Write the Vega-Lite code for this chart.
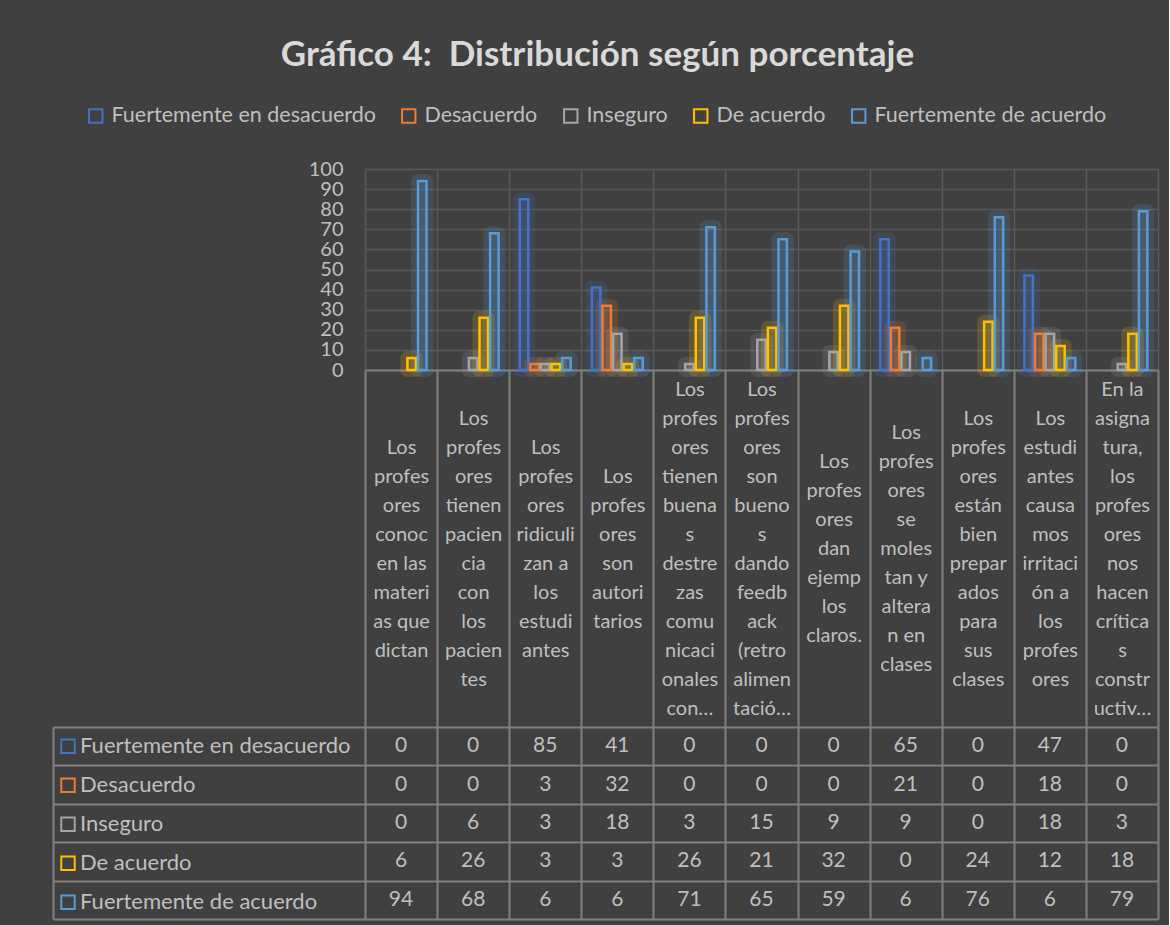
{
  "$schema": "https://vega.github.io/schema/vega-lite/v6.json",
  "background": "#404040",
  "padding": {"left": 52, "top": 38, "right": 10, "bottom": 5},
  "title": {
    "text": "Gráfico 4: \u00a0Distribución según porcentaje",
    "anchor": "middle",
    "font": "Lato",
    "fontSize": 35,
    "fontWeight": "bold",
    "color": "#d9d9d9",
    "offset": 32,
    "dx": -8
  },
  "datasets": {
    "labels": [
      {"q": 1, "label": "Los|profes|ores|conoc|en las|materi|as que|dictan"},
      {"q": 2, "label": "Los|profes|ores|tienen|pacien|cia|con|los|pacien|tes"},
      {"q": 3, "label": "Los|profes|ores|ridiculi|zan a|los|estudi|antes"},
      {"q": 4, "label": "Los|profes|ores|son|autori|tarios"},
      {"q": 5, "label": "Los|profes|ores|tienen|buena|s|destre|zas|comu|nicaci|onales|con…"},
      {"q": 6, "label": "Los|profes|ores|son|bueno|s|dando|feedb|ack|(retro|alimen|tació…"},
      {"q": 7, "label": "Los|profes|ores|dan|ejemp|los|claros."},
      {"q": 8, "label": "Los|profes|ores|se|moles|tan y|altera|n en|clases"},
      {"q": 9, "label": "Los|profes|ores|están|bien|prepar|ados|para|sus|clases"},
      {"q": 10, "label": "Los|estudi|antes|causa|mos|irritaci|ón a|los|profes|ores"},
      {"q": 11, "label": "En la|asigna|tura,|los|profes|ores|nos|hacen|crítica|s|constr|uctiv…"}
    ],
    "d": [
      {"q": 1, "series": "Fuertemente en desacuerdo", "value": 0},
      {"q": 1, "series": "Desacuerdo", "value": 0},
      {"q": 1, "series": "\u00a0Inseguro", "value": 0},
      {"q": 1, "series": "De acuerdo", "value": 6},
      {"q": 1, "series": "Fuertemente de acuerdo", "value": 94},
      {"q": 2, "series": "Fuertemente en desacuerdo", "value": 0},
      {"q": 2, "series": "Desacuerdo", "value": 0},
      {"q": 2, "series": "\u00a0Inseguro", "value": 6},
      {"q": 2, "series": "De acuerdo", "value": 26},
      {"q": 2, "series": "Fuertemente de acuerdo", "value": 68},
      {"q": 3, "series": "Fuertemente en desacuerdo", "value": 85},
      {"q": 3, "series": "Desacuerdo", "value": 3},
      {"q": 3, "series": "\u00a0Inseguro", "value": 3},
      {"q": 3, "series": "De acuerdo", "value": 3},
      {"q": 3, "series": "Fuertemente de acuerdo", "value": 6},
      {"q": 4, "series": "Fuertemente en desacuerdo", "value": 41},
      {"q": 4, "series": "Desacuerdo", "value": 32},
      {"q": 4, "series": "\u00a0Inseguro", "value": 18},
      {"q": 4, "series": "De acuerdo", "value": 3},
      {"q": 4, "series": "Fuertemente de acuerdo", "value": 6},
      {"q": 5, "series": "Fuertemente en desacuerdo", "value": 0},
      {"q": 5, "series": "Desacuerdo", "value": 0},
      {"q": 5, "series": "\u00a0Inseguro", "value": 3},
      {"q": 5, "series": "De acuerdo", "value": 26},
      {"q": 5, "series": "Fuertemente de acuerdo", "value": 71},
      {"q": 6, "series": "Fuertemente en desacuerdo", "value": 0},
      {"q": 6, "series": "Desacuerdo", "value": 0},
      {"q": 6, "series": "\u00a0Inseguro", "value": 15},
      {"q": 6, "series": "De acuerdo", "value": 21},
      {"q": 6, "series": "Fuertemente de acuerdo", "value": 65},
      {"q": 7, "series": "Fuertemente en desacuerdo", "value": 0},
      {"q": 7, "series": "Desacuerdo", "value": 0},
      {"q": 7, "series": "\u00a0Inseguro", "value": 9},
      {"q": 7, "series": "De acuerdo", "value": 32},
      {"q": 7, "series": "Fuertemente de acuerdo", "value": 59},
      {"q": 8, "series": "Fuertemente en desacuerdo", "value": 65},
      {"q": 8, "series": "Desacuerdo", "value": 21},
      {"q": 8, "series": "\u00a0Inseguro", "value": 9},
      {"q": 8, "series": "De acuerdo", "value": 0},
      {"q": 8, "series": "Fuertemente de acuerdo", "value": 6},
      {"q": 9, "series": "Fuertemente en desacuerdo", "value": 0},
      {"q": 9, "series": "Desacuerdo", "value": 0},
      {"q": 9, "series": "\u00a0Inseguro", "value": 0},
      {"q": 9, "series": "De acuerdo", "value": 24},
      {"q": 9, "series": "Fuertemente de acuerdo", "value": 76},
      {"q": 10, "series": "Fuertemente en desacuerdo", "value": 47},
      {"q": 10, "series": "Desacuerdo", "value": 18},
      {"q": 10, "series": "\u00a0Inseguro", "value": 18},
      {"q": 10, "series": "De acuerdo", "value": 12},
      {"q": 10, "series": "Fuertemente de acuerdo", "value": 6},
      {"q": 11, "series": "Fuertemente en desacuerdo", "value": 0},
      {"q": 11, "series": "Desacuerdo", "value": 0},
      {"q": 11, "series": "\u00a0Inseguro", "value": 3},
      {"q": 11, "series": "De acuerdo", "value": 18},
      {"q": 11, "series": "Fuertemente de acuerdo", "value": 79}
    ]
  },
  "spacing": 357,
  "bounds": "flush",
  "resolve": {"scale": {"stroke": "independent"}, "legend": {"stroke": "independent"}},
  "vconcat": [
    {
      "width": 793,
      "height": 201,
      "data": {"name": "d"},
      "transform": [
        {"lookup": "q", "from": {"data": {"name": "labels"}, "key": "q", "fields": ["label"]}},
        {"filter": "datum.value > 0"}
      ],
      "encoding": {
        "x": {
          "field": "label", "type": "nominal",
          "sort": {"field": "q", "op": "min"},
          "scale": {"paddingInner": 0, "paddingOuter": 0},
          "axis": {"labels": false, "ticks": false, "title": null, "domain": true, "domainColor": "#808080", "domainWidth": 2, "grid": true, "gridColor": "#595959", "gridWidth": 1.5, "tickBand": "extent"}
        },
        "xOffset": {
          "field": "series", "type": "nominal",
          "sort": ["Fuertemente en desacuerdo", "Desacuerdo", "\u00a0Inseguro", "De acuerdo", "Fuertemente de acuerdo"],
          "scale": {"paddingInner": 0.2, "paddingOuter": 1.2}
        },
        "y": {
          "field": "value", "type": "quantitative",
          "scale": {"domain": [0, 100], "nice": false},
          "axis": {"values": [0, 10, 20, 30, 40, 50, 60, 70, 80, 90, 100], "title": null, "domain": false, "ticks": false, "labelPadding": 22, "labelFontSize": 20, "labelFont": "Lato", "labelColor": "#bfbfbf", "labelOverlap": false, "grid": true, "gridColor": "#595959", "gridWidth": 1.5}
        }
      },
      "layer": [
        {
          "mark": {"type": "point", "filled": false, "shape": "square", "size": 0, "opacity": 0, "strokeWidth": 2},
          "encoding": {
            "stroke": {"field": "series", "type": "nominal",
              "sort": ["Fuertemente en desacuerdo", "Desacuerdo", "\u00a0Inseguro", "De acuerdo", "Fuertemente de acuerdo"],
              "scale": {"range": ["#4472C4", "#ED7D31", "#A5A5A5", "#FFC000", "#5B9BD5"]},
              "legend": {
                "orient": "none", "legendX": -280, "legendY": -64, "direction": "horizontal", "columns": 5,
                "title": null, "padding": 0, "symbolType": "square", "symbolSize": 180, "symbolStrokeWidth": 2, "symbolOpacity": 1,
                "labelFont": "Lato", "labelFontSize": 21.5, "labelColor": "#bfbfbf", "labelOffset": 5, "columnPadding": 22, "labelLimit": 400
              }
            }
          }
        },
        {
          "mark": {"type": "bar", "strokeWidth": 14, "strokeOpacity": 0.17, "fillOpacity": 0.17, "strokeJoin": "round"},
          "encoding": {
            "stroke": {"field": "series", "type": "nominal",
              "sort": ["Fuertemente en desacuerdo", "Desacuerdo", "\u00a0Inseguro", "De acuerdo", "Fuertemente de acuerdo"],
              "scale": {"range": ["#4472C4", "#ED7D31", "#A5A5A5", "#FFC000", "#5B9BD5"]}},
            "fill": {"field": "series", "type": "nominal", "legend": null,
              "sort": ["Fuertemente en desacuerdo", "Desacuerdo", "\u00a0Inseguro", "De acuerdo", "Fuertemente de acuerdo"],
              "scale": {"range": ["#4472C4", "#ED7D31", "#A5A5A5", "#FFC000", "#5B9BD5"]}}
          }
        },
        {
          "mark": {"type": "bar", "strokeWidth": 2.5, "fill": "transparent"},
          "encoding": {
            "stroke": {"field": "series", "type": "nominal",
              "sort": ["Fuertemente en desacuerdo", "Desacuerdo", "\u00a0Inseguro", "De acuerdo", "Fuertemente de acuerdo"],
              "scale": {"range": ["#4472C4", "#ED7D31", "#A5A5A5", "#FFC000", "#5B9BD5"]}}
          }
        }
      ]
    },
    {
      "width": 793,
      "height": 192,
      "data": {"name": "d"},
      "transform": [
        {"lookup": "q", "from": {"data": {"name": "labels"}, "key": "q", "fields": ["label"]}}
      ],
      "encoding": {
        "x": {
          "field": "label", "type": "nominal",
          "sort": {"field": "q", "op": "min"},
          "scale": {"paddingInner": 0, "paddingOuter": 0},
          "axis": {"orient": "top", "title": null,
            "labelExpr": "isValid(datum.value) ? split(datum.value, '|') : ''",
            "labelAngle": 0, "labelAlign": "center", "labelBaseline": "middle", "labelLineHeight": 29,
            "labelPadding": {"expr": "isValid(datum.value) ? -178.5 + (length(split(datum.value, '|')) - 1) * 14.5 : 0"},
            "labelFont": "Lato", "labelFontSize": 20, "labelColor": "#bfbfbf", "labelOverlap": false, "labelBound": false, "labelLimit": 0,
            "ticks": true, "tickSize": 357, "tickBand": "extent", "tickColor": "#808080", "tickWidth": 2,
            "grid": true, "gridColor": "#808080", "gridWidth": 2, "domain": false}
        },
        "y": {
          "field": "series", "type": "nominal",
          "sort": ["Fuertemente en desacuerdo", "Desacuerdo", "\u00a0Inseguro", "De acuerdo", "Fuertemente de acuerdo"],
          "scale": {"paddingInner": 0, "paddingOuter": 0},
          "axis": {"title": null, "labels": false, "offset": 312, "domain": true, "domainColor": "#808080", "domainWidth": 2,
            "ticks": true, "tickSize": -312, "tickBand": "extent", "tickColor": "#808080", "tickWidth": 2,
            "grid": true, "gridColor": "#808080", "gridWidth": 2}
        }
      },
      "layer": [
        {
          "mark": {"type": "text", "font": "Lato", "fontSize": 21, "color": "#bfbfbf"},
          "encoding": {
            "text": {"field": "value", "type": "quantitative"}
          }
        },
        {
          "mark": {"type": "point", "filled": false, "shape": "square", "size": 0, "opacity": 0, "strokeWidth": 2},
          "encoding": {
            "stroke": {"field": "series", "type": "nominal",
              "scale": {"domain": ["Fuertemente en desacuerdo", "Desacuerdo", "\u00a0Inseguro", "De acuerdo", "Fuertemente de acuerdo"], "range": ["#4472C4", "#ED7D31", "#A5A5A5", "#FFC000", "#5B9BD5"]},
              "legend": {
                "orient": "none", "legendX": -308, "legendY": 0, "direction": "vertical",
                "title": null, "padding": 0, "rowPadding": 0, "clipHeight": 38.4, "symbolType": "square", "symbolSize": 180, "symbolStrokeWidth": 2, "symbolOpacity": 1,
                "labelFont": "Lato", "labelFontSize": 22, "labelColor": "#bfbfbf", "labelOffset": 1, "labelLimit": 400
              }
            }
          }
        }
      ]
    }
  ],
  "config": {
    "view": {"stroke": null},
    "font": "Lato"
  }
}
